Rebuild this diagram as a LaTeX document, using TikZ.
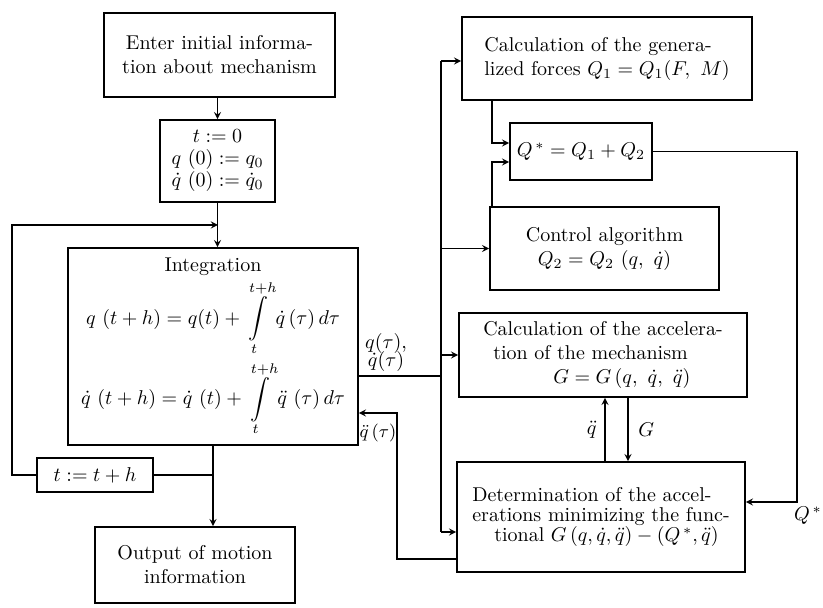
\documentclass[tikz,border=0pt]{standalone}
\usepackage{amsmath}
\usetikzlibrary{arrows, positioning}

\tikzset{
  blk/.style={draw, line width=0.8pt, align=center, inner sep=2pt},
  lnk/.style={line width=0.6pt},
  lbl/.style={inner sep=1pt}
}

\begin{document}
\begin{tikzpicture}[x=0.5pt, y=-0.5pt, >=stealth]
  \useasboundingbox (0,0) rectangle (823,608);
  % left column
  \node[blk, minimum width=115.5pt, minimum height=42pt] (enter) at (219.5,55) {Enter initial informa-\\tion about mechanism};
  \node[blk, minimum width=57.5pt, minimum height=41pt] (init) at (217.5,161) {$t:=0$\\[-1pt]$q\ (0):=q_0$\\[-1pt]$\dot q\ (0):=\dot q_0$};
  \node[blk, minimum width=145pt, minimum height=98.5pt] (integ) at (213,346.5) {Integration\\[2pt]
    $q\ (t+h)=q(t)+\displaystyle\int\limits_t^{t+h}\dot q\,(\tau)\,d\tau$\\[2pt]
    $\dot q\ (t+h)=\dot q\ (t)+\displaystyle\int\limits_t^{t+h}\ddot q\ (\tau)\,d\tau$};
  \node[blk, minimum width=58pt, minimum height=17pt] (incr) at (95,475) {$t:=t+h$};
  \node[blk, minimum width=100pt, minimum height=38pt] (output) at (195,565) {Output of motion\\information};
  % right column
  \node[blk, minimum width=145pt, minimum height=41.5pt, align=left] (genf) at (607,58.5) {Calculation of the genera-\\lized forces $Q_1=Q_1(F,\ M)$};
  \node[blk, minimum width=71pt, minimum height=28.5pt] (qstar) at (581,151.5) {$Q^{\,*}=Q_1+Q_2$};
  \node[blk, minimum width=114.5pt, minimum height=41.5pt] (ctrl) at (604.5,248.5) {Control algorithm\\$Q_2=Q_2\ (q,\ \dot q)$};
  \node[blk, minimum width=144pt, minimum height=42pt, align=left] (accel) at (603,355) {Calculation of the accelera-\\\hspace*{5pt}tion of the mechanism\\\hspace*{35pt}$G=G\,(q,\ \dot q,\ \ddot q)$};
  \node[blk, minimum width=144pt, minimum height=55pt, align=left] (determ) at (601,517) {Determination of the accel-\\[-2pt]erations minimizing the func-\\[-2pt]\hspace*{11pt}tional $G\,(q,\dot q,\ddot q)-(Q^{\,*},\ddot q)$};

  % junction points
  \coordinate (jn) at (218,225);
  \coordinate (lp) at (12,475);
  \coordinate (bq) at (441,376);
  \coordinate (btop) at (441,61);
  \coordinate (bbot) at (441,532);
  \coordinate (qa) at (492,143);
  \coordinate (qb) at (492,162);
  \coordinate (qr) at (797,502);
  \coordinate (ua) at (605,430);
  \coordinate (da) at (628,430);
  \coordinate (fb) at (397,559);
  \coordinate (fbt) at (397,413);

  % left connectors
  \draw[lnk, ->] (init.north |- enter.south) -- (init.north);
  \draw[lnk, ->] (init.south) -- (init.south |- integ.north);
  \draw[lnk, ->] (incr.west) -- (lp) |- (jn);
  \draw[lnk, ->] (integ.south) -- (integ.south |- output.north);
  \draw[lnk] (incr.east) -- (integ.south |- incr.east);
  % bus to the right column
  \draw[lnk] (integ.east |- bq) -- (bq);
  \node[lbl, align=center, anchor=south] (qlbl) at (386,374) {$q(\tau)$,\\[-3pt]$\dot q(\tau)$};
  \draw[lnk] (btop) -- (bbot);
  \draw[lnk, ->] (btop) -- (btop -| genf.west);
  \draw[lnk, ->] (btop |- ctrl.west) -- (ctrl.west);
  \draw[lnk, ->] (btop |- accel.west) -- (accel.west);
  \draw[lnk, ->] (bbot) -- (bbot -| determ.west);
  % generalized forces
  \draw[lnk, ->] (qa |- genf.south) -- (qa) -- (qa -| qstar.west);
  \draw[lnk, ->] (qb |- ctrl.north) -- (qb) -- (qb -| qstar.west);
  \draw[lnk, ->] (qstar.east) -| (qr) -- (qr -| determ.east);
  \node[inner sep=0pt] (qslbl) at (808,516) {$Q^{\,*}$};
  % acceleration loop
  \draw[lnk, ->] (ua |- determ.north) -- (ua |- accel.south);
  \draw[lnk, ->] (da |- accel.south) -- (da |- determ.north);
  \node[lbl, anchor=east] (qdd) at ([xshift=-3pt]ua) {$\ddot q$};
  \node[lbl, anchor=west] (glbl) at ([xshift=4pt]da) {$G$};
  % feedback to integration
  \draw[lnk, ->] (fb -| determ.west) -- (fb) -- (fbt) -- (fbt -| integ.east);
  \node[lbl, font=\small] (qddt) at (378,433) {$\ddot q\,(\tau)$};
\end{tikzpicture}
\end{document}
